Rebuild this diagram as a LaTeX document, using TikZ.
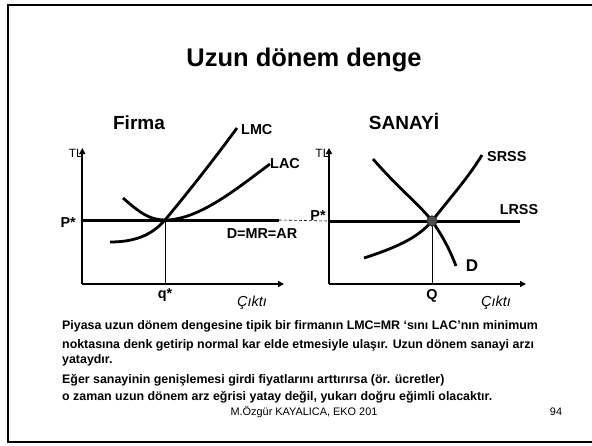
\documentclass[tikz,border=0pt]{standalone}
\usepackage{fontspec}
\setmainfont{Liberation Sans}
\usetikzlibrary{arrows.meta}
\tikzset{
  axis/.style={line width=2pt,-{Triangle[length=6pt,width=6pt]}},
  curve/.style={line width=2.8pt},
  level/.style={line width=3pt},
  thinline/.style={line width=0.8pt},
  lbl/.style={font=\fontsize{14.4}{16}\selectfont\bfseries,inner sep=0pt},
  tl/.style={font=\fontsize{12}{14}\selectfont,inner sep=0pt},
  cikti/.style={font=\fontsize{14.5}{16}\selectfont\itshape,inner sep=0pt},
  head/.style={font=\fontsize{19}{21}\selectfont\bfseries,inner sep=0pt},
  body/.style={font=\fontsize{12.4}{14}\selectfont\bfseries,inner sep=0pt,anchor=base west},
}
\begin{document}
\begin{tikzpicture}[x=1pt,y=-1pt]
\useasboundingbox (0,0) rectangle (592,445);
\fill[white] (0,0) rectangle (592,445);
% slide frame
\draw[line width=2pt] (600,4.5) -- (8,4.5) -- (8,442) -- (600,442);
% title
\node[font=\fontsize{25.5}{28}\selectfont\bfseries,inner sep=0pt,anchor=base] (title) at (304,66.5) {Uzun dönem denge};
\node[head,anchor=base] (firma) at (139,129) {Firma};
\node[head,anchor=base] (sanayi) at (404,129) {SANAYİ};

% ---------- Firma panel ----------
\coordinate (o1) at (82.3,284);
\coordinate (y1) at (82.3,148);
\coordinate (x1) at (284,284);
\draw[axis] (o1) -- (y1);
\draw[axis] (o1) -- (x1);
\coordinate (p1a) at (82.3,220);
\coordinate (p1b) at (279,220);
\coordinate (e1) at (165,220);
\coordinate (q1) at (165,284);
\draw[level] (p1a) -- (p1b);
\draw[thinline] (e1) -- (q1);
% LAC
\draw[curve] (123,198) .. controls (140,213) and (150,220) .. (e1)
  .. controls (200,220) and (240,186) .. (270,164);
% LMC
\draw[curve] (110,242) .. controls (135,242) and (152,235) .. (e1)
  .. controls (190,190) and (215,158) .. (237,128);
\node[tl,anchor=east] (tl1) at (83,153) {TL};
\node[lbl,anchor=east] (ps1) at (76,223) {P*};
\node[lbl,anchor=west] (lmc) at (241,130) {LMC};
\node[lbl,anchor=west] (lac) at (270,164) {LAC};
\node[lbl] (dmr) at (262,234) {D=MR=AR};
\node[lbl] (qs) at (165,295) {q*};
\node[cikti] (ck1) at (252,303) {Çıktı};

% ---------- Sanayi panel ----------
\coordinate (o2) at (329,284);
\coordinate (y2) at (329,148);
\coordinate (x2) at (526,284);
\draw[axis] (o2) -- (y2);
\draw[axis] (o2) -- (x2);
\coordinate (p2a) at (329,221);
\coordinate (p2b) at (520,221);
\coordinate (e2) at (432,221);
\coordinate (q2) at (432,284);
\draw[densely dashed,line width=0.6pt] (p1b) -- (p2a);
\draw[level] (p2a) -- (p2b);
\draw[thinline] (e2) -- (q2);
% D
\draw[curve] (373,159) .. controls (400,190) and (420,205) .. (e2)
  .. controls (442,235) and (450,250) .. (456,266);
% SRSS
\draw[curve] (364,258) .. controls (395,248) and (418,238) .. (e2)
  .. controls (450,198) and (468,178) .. (482,155);
\fill[black!70,draw=black!85,line width=0.8pt] (e2) circle (5.2);
\node[tl,anchor=east] (tl2) at (329.7,153) {TL};
\node[lbl] (ps2) at (318,216) {P*};
\node[lbl,anchor=west] (srss) at (487,157) {SRSS};
\node[lbl] (lrss) at (519,210) {LRSS};
\node[font=\fontsize{17}{19}\selectfont\bfseries,inner sep=0pt] (dl) at (472,266) {D};
\node[lbl] (qq) at (432,296) {Q};
\node[cikti] (ck2) at (496,303) {Çıktı};

% ---------- text ----------
\node[body] (t1) at (62,329.3) {Piyasa uzun dönem dengesine tipik bir firmanın LMC=MR ‘sını LAC’nın minimum};
\node[body] (t2) at (62,348.3) {noktasına denk getirip normal kar elde etmesiyle ulaşır. Uzun dönem sanayi arzı};
\node[body] (t3) at (62,363.3) {yataydır.};
\node[body] (t4) at (62,383.3) {Eğer sanayinin genişlemesi girdi fiyatlarını arttırırsa (ör. ücretler)};
\node[body] (t5) at (62,400.7) {o zaman uzun dönem arz eğrisi yatay değil, yukarı doğru eğimli olacaktır.};
\node[font=\fontsize{10.9}{12}\selectfont,inner sep=0pt,anchor=base] (foot) at (304,415) {M.Özgür KAYALICA, EKO 201};
\node[font=\fontsize{10.9}{12}\selectfont,inner sep=0pt,anchor=base] (pg) at (556,415) {94};
\end{tikzpicture}
\end{document}
